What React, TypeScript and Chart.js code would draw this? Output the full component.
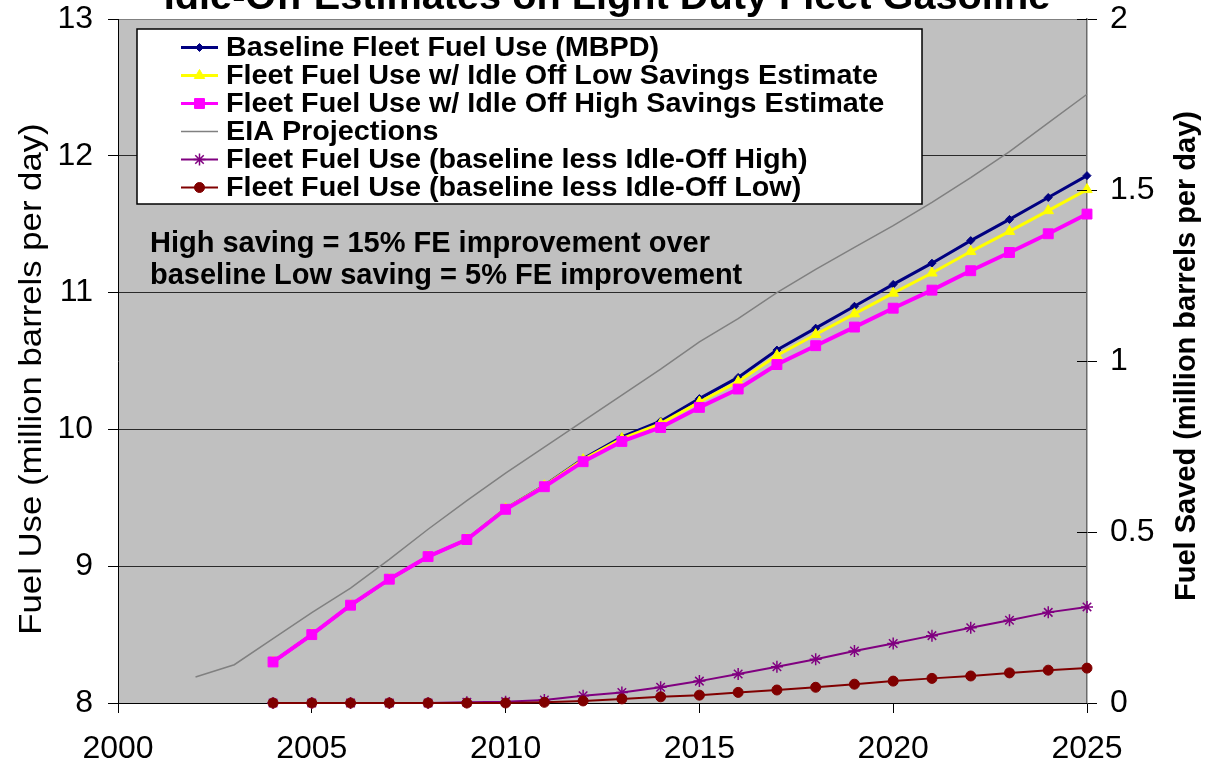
import React, { useEffect, useRef } from "react";
import { Chart, registerables } from "chart.js";

Chart.register(...registerables);

// ---------- data ----------
const years = [2004, 2005, 2006, 2007, 2008, 2009, 2010, 2011, 2012, 2013, 2014, 2015, 2016, 2017, 2018, 2019, 2020, 2021, 2022, 2023, 2024, 2025];
const eiaYears = [2002, 2003, 2004, 2005, 2006, 2007, 2008, 2009, 2010, 2011, 2012, 2013, 2014, 2015, 2016, 2017, 2018, 2019, 2020, 2021, 2022, 2023, 2024, 2025];

const baselineFuel = [8.3, 8.5, 8.715, 8.905, 9.07, 9.195, 9.42, 9.59, 9.785, 9.945, 10.06, 10.225, 10.38, 10.58, 10.74, 10.9, 11.06, 11.215, 11.38, 11.535, 11.695, 11.855];
const lowSavingsFuel = [8.3, 8.5, 8.715, 8.905, 9.07, 9.195, 9.42, 9.588, 9.779, 9.933, 10.042, 10.2, 10.349, 10.54, 10.694, 10.845, 10.996, 11.143, 11.3, 11.447, 11.599, 11.753];
const highSavingsFuel = [8.3, 8.5, 8.715, 8.905, 9.07, 9.195, 9.416, 9.581, 9.764, 9.912, 10.014, 10.161, 10.295, 10.474, 10.612, 10.748, 10.886, 11.018, 11.16, 11.293, 11.43, 11.574];
const eiaProjection = [8.19, 8.28, 8.47, 8.66, 8.84, 9.05, 9.27, 9.48, 9.68, 9.87, 10.06, 10.25, 10.44, 10.64, 10.81, 11.0, 11.17, 11.33, 11.49, 11.66, 11.84, 12.03, 12.24, 12.45];
const savedHigh = [0, 0, 0, 0, 0, 0.002, 0.004, 0.009, 0.021, 0.031, 0.046, 0.064, 0.085, 0.106, 0.128, 0.152, 0.174, 0.197, 0.22, 0.242, 0.265, 0.281];
const savedLow = [0, 0, 0, 0, 0, 0, 0, 0.002, 0.006, 0.012, 0.018, 0.023, 0.031, 0.038, 0.046, 0.055, 0.064, 0.072, 0.079, 0.088, 0.096, 0.102];

const xTicks = [2000, 2005, 2010, 2015, 2020, 2025];
const leftTicks = [8, 9, 10, 11, 12, 13];
const rightTicks = [0, 0.5, 1, 1.5, 2];

const seriesLabels = [
  "Baseline Fleet Fuel Use (MBPD)",
  "Fleet Fuel Use w/ Idle Off Low Savings Estimate",
  "Fleet Fuel Use w/ Idle Off High Savings Estimate",
  "EIA Projections",
  "Fleet Fuel Use (baseline less Idle-Off High)",
  "Fleet Fuel Use (baseline less Idle-Off Low)",
];
const titleText = "Idle-Off Estimates on Light Duty Fleet Gasoline";
const noteLines = ["High saving = 15% FE improvement over", "baseline Low saving = 5% FE improvement"];
const leftAxisTitle = "Fuel Use (million barrels per day)";
const rightAxisTitle = "Fuel Saved (million barrels per day)";

const FONT = "'Liberation Sans', Arial, Helvetica, sans-serif";

function pts(xs: number[], ys: number[]) {
  return xs.map((x, i) => ({ x, y: ys[i] }));
}

function drawMarker(ctx: CanvasRenderingContext2D, style: any, x: number, y: number, r: number, fill: string, stroke: string, lw: number) {
  if (!style || r <= 0) return;
  ctx.save();
  ctx.fillStyle = fill;
  ctx.strokeStyle = stroke;
  ctx.lineWidth = lw;
  ctx.beginPath();
  if (style === "circle") {
    ctx.arc(x, y, r, 0, Math.PI * 2);
    ctx.fill();
    ctx.stroke();
  } else if (style === "rect") {
    const s = r * Math.SQRT1_2;
    ctx.rect(x - s, y - s, 2 * s, 2 * s);
    ctx.fill();
    ctx.stroke();
  } else if (style === "rectRot") {
    ctx.moveTo(x - r, y);
    ctx.lineTo(x, y - r);
    ctx.lineTo(x + r, y);
    ctx.lineTo(x, y + r);
    ctx.closePath();
    ctx.fill();
    ctx.stroke();
  } else if (style === "triangle") {
    let a = 0;
    ctx.moveTo(x + Math.sin(a) * r, y - Math.cos(a) * r);
    a += (2 * Math.PI) / 3;
    ctx.lineTo(x + Math.sin(a) * r, y - Math.cos(a) * r);
    a += (2 * Math.PI) / 3;
    ctx.lineTo(x + Math.sin(a) * r, y - Math.cos(a) * r);
    ctx.closePath();
    ctx.fill();
    ctx.stroke();
  } else if (style === "star") {
    ctx.moveTo(x - r, y);
    ctx.lineTo(x + r, y);
    ctx.moveTo(x, y - r);
    ctx.lineTo(x, y + r);
    const d = r * Math.SQRT1_2;
    ctx.moveTo(x - d, y - d);
    ctx.lineTo(x + d, y + d);
    ctx.moveTo(x - d, y + d);
    ctx.lineTo(x + d, y - d);
    ctx.stroke();
  }
  ctx.restore();
}

const overlayPlugin = {
  id: "overlay",
  beforeDraw(chart: any) {
    const { ctx, chartArea: a } = chart;
    ctx.save();
    ctx.fillStyle = "#C0C0C0";
    ctx.fillRect(a.left, a.top, a.right - a.left, a.bottom - a.top);
    ctx.restore();
  },
  afterDraw(chart: any) {
    const { ctx, chartArea: a } = chart;
    ctx.save();
    ctx.fillStyle = "#000";

    // Title (clipped at top as in the reference)
    ctx.font = `bold 39.7px ${FONT}`;
    ctx.textAlign = "center";
    ctx.textBaseline = "alphabetic";
    ctx.fillText(titleText, 607, 9);

    // inner halves of right-axis ticks
    const y1 = chart.scales.y1;
    ctx.strokeStyle = "#000";
    ctx.lineWidth = 1;
    rightTicks.forEach((v) => {
      const y = Math.round(y1.getPixelForValue(v)) + 0.5;
      ctx.beginPath();
      ctx.moveTo(a.right - 10, y);
      ctx.lineTo(a.right, y);
      ctx.stroke();
    });

    // left axis title (reads bottom to top)
    ctx.save();
    ctx.translate(32, 379);
    ctx.rotate(-Math.PI / 2);
    ctx.scale(1.12, 1);
    ctx.font = `31px ${FONT}`;
    ctx.textAlign = "center";
    ctx.textBaseline = "middle";
    ctx.fillText(leftAxisTitle, 0, 0);
    ctx.restore();

    // right axis title (reads bottom to top)
    ctx.save();
    ctx.translate(1187, 356);
    ctx.rotate(-Math.PI / 2);
    ctx.font = `bold 29px ${FONT}`;
    ctx.textAlign = "center";
    ctx.textBaseline = "middle";
    ctx.fillText(rightAxisTitle, 0, 0);
    ctx.restore();

    // legend
    const bx = 137, by = 29, bw = 785, bh = 175;
    ctx.fillStyle = "#FFFFFF";
    ctx.fillRect(bx, by, bw, bh);
    ctx.strokeStyle = "#000";
    ctx.lineWidth = 1.5;
    ctx.strokeRect(bx, by, bw, bh);
    chart.data.datasets.forEach((ds: any, i: number) => {
      const y = 47.5 + i * 28;
      ctx.save();
      ctx.strokeStyle = ds.borderColor;
      ctx.lineWidth = Math.min(ds.borderWidth, 3);
      ctx.beginPath();
      ctx.moveTo(181, y);
      ctx.lineTo(218, y);
      ctx.stroke();
      ctx.restore();
      drawMarker(ctx, ds.pointStyle, 199.5, y, ds.pointRadius, ds.pointBackgroundColor, ds.pointBorderColor, ds.pointBorderWidth);
      ctx.save();
      ctx.translate(226, y + 1);
      ctx.scale(1.027, 1);
      ctx.fillStyle = "#000";
      ctx.font = `bold 28px ${FONT}`;
      ctx.textAlign = "left";
      ctx.textBaseline = "middle";
      ctx.fillText(ds.label, 0, 0);
      ctx.restore();
    });

    // annotation
    ctx.fillStyle = "#000";
    ctx.font = `bold 29px ${FONT}`;
    ctx.textAlign = "left";
    ctx.textBaseline = "middle";
    noteLines.forEach((t, i) => ctx.fillText(t, 150, 244 + i * 32));

    ctx.restore();
  },
};

export default function App() {
  const canvasRef = useRef<HTMLCanvasElement | null>(null);

  useEffect(() => {
    const canvas = canvasRef.current;
    if (!canvas) return;

    const datasets: any[] = [
      {
        label: seriesLabels[0],
        data: pts(years, baselineFuel),
        yAxisID: "y",
        borderColor: "#000080",
        backgroundColor: "#000080",
        borderWidth: 3,
        pointStyle: "rectRot",
        pointRadius: 4,
        pointBackgroundColor: "#000080",
        pointBorderColor: "#000080",
        pointBorderWidth: 1,
        order: 4,
      },
      {
        label: seriesLabels[1],
        data: pts(years, lowSavingsFuel),
        yAxisID: "y",
        borderColor: "#FFFF00",
        backgroundColor: "#FFFF00",
        borderWidth: 3,
        pointStyle: "triangle",
        pointRadius: 6,
        pointBackgroundColor: "#FFFF00",
        pointBorderColor: "#FFFF00",
        pointBorderWidth: 1,
        order: 3,
      },
      {
        label: seriesLabels[2],
        data: pts(years, highSavingsFuel),
        yAxisID: "y",
        borderColor: "#FF00FF",
        backgroundColor: "#FF00FF",
        borderWidth: 4,
        pointStyle: "rect",
        pointRadius: 7,
        pointBackgroundColor: "#FF00FF",
        pointBorderColor: "#FF00FF",
        pointBorderWidth: 1,
        order: 2,
      },
      {
        label: seriesLabels[3],
        data: pts(eiaYears, eiaProjection),
        yAxisID: "y",
        borderColor: "#808080",
        backgroundColor: "#808080",
        borderWidth: 1.5,
        pointStyle: false,
        pointRadius: 0,
        pointBackgroundColor: "#808080",
        pointBorderColor: "#808080",
        pointBorderWidth: 0,
        order: 5,
      },
      {
        label: seriesLabels[4],
        data: pts(years, savedHigh),
        yAxisID: "y1",
        borderColor: "#800080",
        backgroundColor: "#800080",
        borderWidth: 2,
        pointStyle: "star",
        pointRadius: 6,
        pointBackgroundColor: "#800080",
        pointBorderColor: "#800080",
        pointBorderWidth: 1.5,
        order: 1,
      },
      {
        label: seriesLabels[5],
        data: pts(years, savedLow),
        yAxisID: "y1",
        borderColor: "#800000",
        backgroundColor: "#800000",
        borderWidth: 2,
        pointStyle: "circle",
        pointRadius: 5,
        pointBackgroundColor: "#800000",
        pointBorderColor: "#800000",
        pointBorderWidth: 1,
        order: 0,
      },
    ];
    datasets.forEach((d) => {
      d.clip = false;
      d.tension = 0;
      d.fill = false;
      d.pointHoverRadius = d.pointRadius;
    });

    const tickFont = { family: FONT, size: 32 };

    const chart = new Chart(canvas, {
      type: "line",
      data: { datasets },
      options: {
        responsive: false,
        animation: false,
        devicePixelRatio: 1,
        layout: { padding: { top: 19, left: 0, right: 0, bottom: 0 } },
        plugins: {
          legend: { display: false },
          title: { display: false },
          tooltip: { enabled: false },
        },
        events: [],
        scales: {
          x: {
            type: "linear",
            min: 2000,
            max: 2025,
            afterBuildTicks: (s: any) => {
              s.ticks = xTicks.map((v) => ({ value: v }));
            },
            afterFit: (s: any) => {
              s.height = 61;
              s.paddingLeft = 0;
              s.paddingRight = 0;
            },
            ticks: {
              font: tickFont,
              color: "#000",
              padding: 17,
              maxRotation: 0,
              autoSkip: false,
              callback: (v: any) => String(v),
            },
            grid: {
              drawOnChartArea: false,
              drawTicks: true,
              tickLength: 10,
              tickColor: "#000",
              color: "#000",
            },
            border: { display: true, color: "#000", width: 1 },
          },
          y: {
            type: "linear",
            position: "left",
            min: 8,
            max: 13,
            afterBuildTicks: (s: any) => {
              s.ticks = leftTicks.map((v) => ({ value: v }));
            },
            afterFit: (s: any) => {
              s.width = 118;
              s.paddingTop = 0;
              s.paddingBottom = 0;
            },
            ticks: {
              font: tickFont,
              color: "#000",
              padding: 15,
              autoSkip: false,
              callback: (v: any) => String(v),
            },
            grid: {
              drawOnChartArea: true,
              drawTicks: true,
              tickLength: 10,
              tickColor: "#000",
              color: (c: any) => (c.tick && c.tick.value === 13 ? "#808080" : "#2a2a2a"),
              lineWidth: 1,
            },
            border: { display: true, color: "#000", width: 1 },
          },
          y1: {
            type: "linear",
            position: "right",
            min: 0,
            max: 2,
            afterBuildTicks: (s: any) => {
              s.ticks = rightTicks.map((v) => ({ value: v }));
            },
            afterFit: (s: any) => {
              s.width = 121;
              s.paddingTop = 0;
              s.paddingBottom = 0;
            },
            ticks: {
              font: tickFont,
              color: "#000",
              padding: 13,
              autoSkip: false,
              callback: (v: any) => String(v),
            },
            grid: {
              drawOnChartArea: false,
              drawTicks: true,
              tickLength: 10,
              tickColor: "#000",
              color: "#000",
            },
            border: { display: true, color: "#6a6a6a", width: 1.5 },
          },
        },
      },
      plugins: [overlayPlugin],
    } as any);

    return () => chart.destroy();
  }, []);

  return (
    <div style={{ position: "fixed", left: 0, top: 0, width: 1208, height: 764, background: "#fff" }}>
      <canvas ref={canvasRef} width={1208} height={764} style={{ display: "block", width: 1208, height: 764 }} />
    </div>
  );
}
